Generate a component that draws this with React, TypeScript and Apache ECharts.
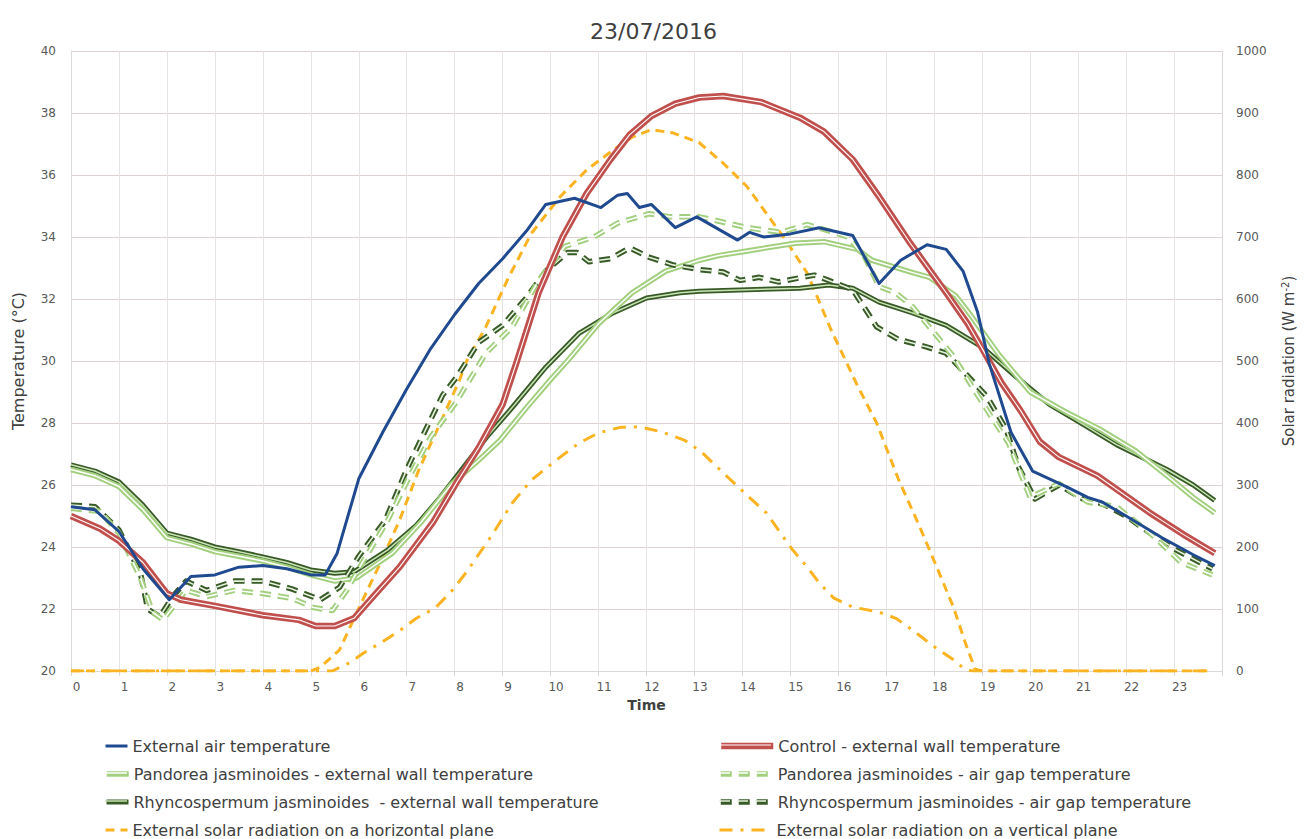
import React, { useEffect, useRef } from "react";
import * as echarts from "echarts";

const FONT = "DejaVu Sans";

const TITLE = "23/07/2016";
const X_TICKS = ["0","1","2","3","4","5","6","7","8","9","10","11","12","13","14","15","16","17","18","19","20","21","22","23"];

const NAMES = [
  "External air temperature",
  "Pandorea jasminoides - external wall temperature",
  "Rhyncospermum jasminoides  - external wall temperature",
  "External solar radiation on a horizontal plane",
  "Control - external wall temperature",
  "Pandorea jasminoides - air gap temperature",
  "Rhyncospermum jasminoides - air gap temperature",
  "External solar radiation on a vertical plane",
];

// [hour, °C]
const airTemp = [[0,25.3],[0.5,25.2],[1,24.5],[1.5,23.3],[2.05,22.3],[2.5,23.05],[3,23.1],[3.5,23.35],[4,23.4],[4.5,23.3],[5,23.1],[5.3,23.1],[5.55,23.8],[6,26.2],[6.5,27.7],[7,29.1],[7.5,30.4],[8,31.5],[8.5,32.5],[9,33.3],[9.5,34.2],[9.9,35.05],[10.5,35.25],[11.05,34.95],[11.4,35.35],[11.6,35.4],[11.85,34.95],[12.1,35.05],[12.6,34.3],[13.05,34.65],[13.9,33.9],[14.15,34.15],[14.45,34.0],[15,34.1],[15.6,34.3],[16.3,34.05],[16.85,32.5],[17.3,33.25],[17.85,33.75],[18.25,33.6],[18.6,32.9],[18.9,31.6],[19.15,29.9],[19.6,27.7],[20.05,26.45],[20.4,26.2],[20.75,25.95],[21.2,25.6],[21.5,25.45],[22,25.0],[22.75,24.3],[23.4,23.75],[23.85,23.4]];

const controlWall = [[0,25.0],[0.6,24.6],[1,24.2],[1.5,23.5],[2,22.5],[2.3,22.3],[3,22.1],[4,21.8],[4.75,21.65],[5.1,21.45],[5.5,21.45],[5.9,21.7],[6.3,22.4],[6.85,23.35],[7.55,24.8],[8.05,26.1],[8.5,27.2],[9.0,28.6],[9.3,30.0],[9.75,32.2],[10.25,34.0],[10.75,35.4],[11.25,36.5],[11.65,37.3],[12.1,37.9],[12.6,38.3],[13.1,38.5],[13.6,38.55],[14.4,38.35],[15.2,37.85],[15.7,37.4],[16.3,36.5],[16.85,35.3],[17.5,33.8],[18.25,32.2],[18.7,31.2],[19.0,30.4],[19.4,29.3],[19.8,28.4],[20.2,27.4],[20.6,26.9],[21.4,26.3],[22.5,25.1],[23.2,24.4],[23.85,23.8]];

const pandoreaWall = [[0,26.5],[0.5,26.3],[1,25.95],[1.5,25.2],[2,24.3],[2.5,24.1],[3,23.85],[3.5,23.7],[4,23.55],[4.5,23.35],[5,23.1],[5.5,22.9],[5.95,23.0],[6.7,23.8],[7.3,24.8],[7.95,26.05],[8.5,26.8],[8.95,27.45],[9.5,28.5],[10.0,29.4],[10.35,30.0],[11.0,31.2],[11.7,32.2],[12.4,32.9],[13.1,33.25],[13.5,33.4],[14.1,33.55],[15.1,33.8],[15.7,33.85],[16.4,33.6],[16.7,33.25],[17.55,32.85],[17.9,32.7],[18.45,32.1],[18.7,31.6],[19.35,30.2],[20.0,29.0],[20.75,28.35],[21.45,27.8],[22.2,27.1],[22.85,26.3],[23.4,25.6],[23.85,25.1]];

const rhyncoWall = [[0,26.65],[0.5,26.45],[1,26.1],[1.5,25.35],[2,24.45],[2.5,24.25],[3,24.0],[3.5,23.85],[4,23.68],[4.5,23.5],[5,23.26],[5.5,23.15],[5.9,23.2],[6.6,23.9],[7.2,24.7],[7.7,25.6],[8.2,26.6],[8.67,27.55],[9.2,28.5],[9.9,29.8],[10.6,30.9],[11.3,31.55],[12.0,32.03],[12.7,32.2],[13.1,32.25],[14.1,32.3],[15.2,32.35],[15.8,32.45],[16.3,32.35],[16.85,31.9],[17.55,31.55],[18.25,31.15],[19.0,30.45],[19.7,29.5],[20.4,28.6],[21.0,28.05],[21.8,27.3],[22.85,26.5],[23.4,26.0],[23.85,25.5]];

const pandoreaGap = [[0,25.25],[0.6,25.15],[1,24.45],[1.45,23.0],[1.7,21.9],[1.92,21.65],[2.12,22.05],[2.4,22.6],[2.83,22.4],[3.4,22.6],[4,22.5],[4.6,22.35],[5.05,22.05],[5.45,21.95],[5.75,22.6],[6.0,23.3],[6.6,24.85],[7.05,26.25],[7.5,27.55],[8.0,28.6],[8.65,30.25],[9.2,31.1],[9.75,32.6],[10.3,33.7],[10.9,34.0],[11.4,34.45],[12.05,34.75],[12.5,34.65],[13.1,34.65],[13.4,34.55],[14.1,34.3],[14.8,34.15],[15.35,34.4],[15.8,34.2],[16.2,34.0],[16.55,33.35],[16.85,32.4],[17.2,32.2],[17.55,31.75],[17.95,31.0],[18.4,30.15],[18.8,29.15],[19.15,28.3],[19.55,27.35],[20.0,25.6],[20.6,26.05],[21.2,25.45],[21.8,25.3],[22.5,24.45],[23.15,23.5],[23.8,23.1]];

const rhyncoGap = [[0,25.35],[0.5,25.3],[1,24.55],[1.45,23.15],[1.6,22.0],[1.85,21.75],[2.12,22.4],[2.4,22.9],[2.83,22.6],[3.4,22.9],[4,22.9],[4.6,22.65],[5.2,22.3],[5.6,22.7],[6.0,23.7],[6.55,24.85],[7.0,26.5],[7.4,27.8],[7.75,28.9],[8.05,29.5],[8.5,30.6],[9.0,31.15],[9.5,32.05],[9.9,32.9],[10.35,33.5],[10.55,33.5],[10.8,33.2],[11.25,33.3],[11.65,33.65],[12.05,33.35],[12.55,33.1],[13.1,32.95],[13.6,32.87],[13.95,32.6],[14.35,32.7],[14.75,32.55],[15.25,32.7],[15.5,32.77],[15.8,32.6],[16.3,32.3],[16.8,31.1],[17.25,30.7],[17.85,30.45],[18.25,30.25],[18.65,29.6],[19.1,28.85],[19.5,27.8],[19.75,26.6],[20.1,25.55],[20.6,26.0],[21.1,25.55],[21.5,25.4],[22,25.0],[22.5,24.45],[23.05,23.9],[23.6,23.45],[23.8,23.3]];

// [hour, W m-2]
const solarHorizontal = [[0,0],[5.0,0],[5.2,6],[5.6,34],[5.95,93],[6.45,174],[6.85,243],[7.25,324],[7.7,400],[8.1,469],[8.25,500],[8.65,555],[9.1,631],[9.6,706],[10.2,765],[10.75,808],[11.3,840],[11.7,861],[12.1,873],[12.55,868],[13.1,852],[13.6,819],[14.1,781],[14.5,738],[14.9,695],[15.35,642],[15.85,550],[16.4,460],[16.8,400],[17.25,310],[17.7,232],[18.05,168],[18.4,103],[18.65,45],[18.85,3],[19,0],[23.8,0]];

const solarVertical = [[0,0],[5.45,0],[5.8,13],[6.1,29],[6.45,45],[6.85,65],[7.2,85],[7.6,102],[7.95,130],[8.25,160],[8.75,216],[9.2,271],[9.6,308],[10.2,345],[10.6,368],[11.0,384],[11.45,393],[11.85,394],[12.3,386],[12.8,372],[13.15,353],[13.5,327],[13.8,305],[14.2,276],[14.5,255],[14.8,222],[15.05,195],[15.35,168],[15.6,142],[15.9,118],[16.3,103],[16.85,95],[17.2,85],[17.55,66],[17.95,42],[18.4,18],[18.65,2],[18.8,0],[23.8,0]];

const BLUE = "#1f4a8f";
const RED = "#c0504d";
const LIGHT_GREEN = "#a3d07f";
const DARK_GREEN = "#375a27";
const ORANGE = "#fbb321";
const GAP_DASH = [11, 7];
const H_DASH = [9, 6];
const V_DASH = [13, 8, 3, 8];

// outer stroke per legend name: [colour, width, dash]
const OUTER: [string, number, any][] = [
  [BLUE, 3, "solid"],
  [LIGHT_GREEN, 5.5, "solid"],
  [DARK_GREEN, 5, "solid"],
  [ORANGE, 3, H_DASH],
  [RED, 6.5, "solid"],
  [LIGHT_GREEN, 5.5, GAP_DASH],
  [DARK_GREEN, 5.5, GAP_DASH],
  [ORANGE, 3, V_DASH],
];
// inner stroke for compound lines: name index -> [colour, width, dash]
const INNER: Record<number, [string, number, any]> = {
  1: ["#ffffff", 1.5, "solid"],
  2: ["#c9e3b5", 1.5, "solid"],
  4: ["#ffffff", 1.1, "solid"],
  5: ["#ffffff", 1.6, GAP_DASH],
  6: ["#e6f1dc", 1.6, GAP_DASH],
};

const LEGEND_ROWS = [745, 773, 801, 829];
const LEGEND_LEFT = [104, 718];
const LEGEND_ICON_W = [22, 52];

function line(name: string, data: number[][], stroke: [string, number, any], yAxisIndex = 0) {
  return {
    type: "line",
    name,
    data,
    yAxisIndex,
    symbol: "none",
    showSymbol: false,
    smooth: false,
    lineStyle: { color: stroke[0], width: stroke[1], type: stroke[2], cap: "butt", join: "round" },
    itemStyle: { color: stroke[0] },
    emphasis: { disabled: true },
  };
}

export default function App() {
  const ref = useRef<HTMLDivElement>(null);
  useEffect(() => {
    if (!ref.current) return;
    const chart = echarts.init(ref.current, undefined, { renderer: "svg" });
    const series: any[] = [
      line(NAMES[3], solarHorizontal, OUTER[3], 1),
      line(NAMES[7], solarVertical, OUTER[7], 1),
      line(NAMES[2], rhyncoWall, OUTER[2]),
      line(NAMES[2] + " inner", rhyncoWall, INNER[2]),
      line(NAMES[1], pandoreaWall, OUTER[1]),
      line(NAMES[1] + " inner", pandoreaWall, INNER[1]),
      line(NAMES[6], rhyncoGap, OUTER[6]),
      line(NAMES[6] + " inner", rhyncoGap, INNER[6]),
      line(NAMES[5], pandoreaGap, OUTER[5]),
      line(NAMES[5] + " inner", pandoreaGap, INNER[5]),
      line(NAMES[4], controlWall, OUTER[4]),
      line(NAMES[4] + " inner", controlWall, INNER[4]),
      line(NAMES[0], airTemp, OUTER[0]),
    ];
    const legendText = { fontFamily: FONT, fontSize: 16, color: "#404040" };
    const legends: any[] = [];
    const graphics: any[] = [];
    for (let i = 0; i < 8; i++) {
      const col = i < 4 ? 0 : 1;
      const row = i % 4;
      const left = LEGEND_LEFT[col];
      const cy = LEGEND_ROWS[row];
      const w = LEGEND_ICON_W[col];
      const o = OUTER[i];
      legends.push({
        data: [NAMES[i]],
        orient: "horizontal",
        left,
        top: cy - 7,
        padding: 0,
        itemWidth: w,
        itemHeight: 14,
        itemGap: 5,
        itemStyle: { opacity: 0, borderWidth: 0 },
        lineStyle: { color: o[0], width: o[1], type: o[2], cap: "butt" },
        textStyle: legendText,
        selectedMode: false,
      });
      const inner = INNER[i];
      if (inner) {
        graphics.push({
          type: "line",
          silent: true,
          z: 100,
          shape: { x1: left + 1, y1: cy, x2: left + w + 1, y2: cy },
          style: { stroke: inner[0], lineWidth: inner[1], lineDash: inner[2] === "solid" ? null : inner[2] },
        });
      }
    }
    chart.setOption({
      animation: false,
      backgroundColor: "#ffffff",
      textStyle: { fontFamily: FONT },
      title: {
        text: TITLE,
        left: "center",
        top: 15,
        textStyle: { fontFamily: FONT, fontSize: 22, fontWeight: "normal", color: "#404040" },
      },
      grid: { left: 71, right: 85, top: 51, bottom: 168, containLabel: false },
      legend: legends,
      graphic: graphics,
      xAxis: {
        type: "value",
        min: 0,
        max: 24,
        interval: 1,
        name: "Time",
        nameLocation: "middle",
        nameGap: 21,
        nameTextStyle: { fontFamily: FONT, fontSize: 14, fontWeight: "bold", color: "#404040" },
        axisLabel: {
          formatter: (v: number) => (v >= 24 ? "" : X_TICKS[Math.round(v)]),
          color: "#595959",
          fontSize: 12,
          margin: 10,
          padding: [0, 0, 0, 11],
        },
        axisLine: { show: true, lineStyle: { color: "#d9d9d9", width: 1 } },
        axisTick: { show: true, length: 5, lineStyle: { color: "#d9d9d9" } },
        splitLine: { show: true, lineStyle: { color: "#e4e4e4", width: 1 } },
      },
      yAxis: [
        {
          type: "value",
          min: 20,
          max: 40,
          interval: 2,
          name: "Temperature (°C)",
          nameLocation: "middle",
          nameGap: 45,
          nameTextStyle: { fontFamily: FONT, fontSize: 16, color: "#404040" },
          axisLabel: { color: "#595959", fontSize: 12, margin: 15 },
          axisLine: { show: true, lineStyle: { color: "#d9d9d9" } },
          axisTick: { show: false },
          splitLine: { show: true, lineStyle: { color: "#dcd3d1", width: 1 } },
        },
        {
          type: "value",
          min: 0,
          max: 1000,
          interval: 100,
          position: "right",
          name: "Solar radiation (W m{sup|-2})",
          nameLocation: "middle",
          nameGap: 58,
          nameTextStyle: {
            fontFamily: FONT,
            fontSize: 15,
            color: "#404040",
            rich: { sup: { fontFamily: FONT, fontSize: 10, color: "#404040", padding: [0, 0, 8, 0] } },
          },
          axisLabel: { color: "#595959", fontSize: 12, margin: 14, formatter: (v: number) => String(v) },
          axisLine: { show: true, lineStyle: { color: "#d9d9d9" } },
          axisTick: { show: false },
          splitLine: { show: false },
        },
      ],
      series,
    });
    return () => chart.dispose();
  }, []);
  return (
    <div
      ref={ref}
      style={{ position: "absolute", left: 0, top: 0, width: 1307, height: 839, background: "#fff" }}
    />
  );
}
